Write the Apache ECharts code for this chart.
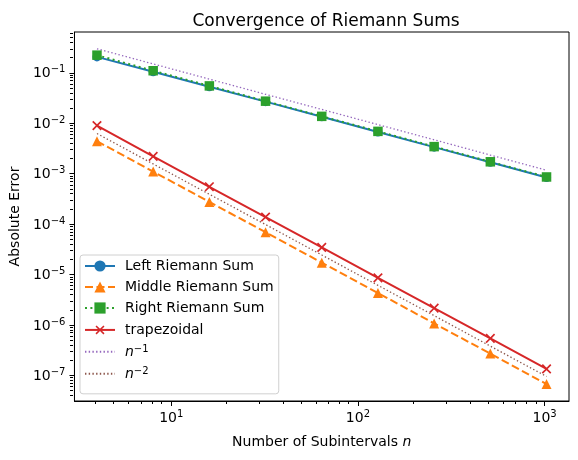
<!DOCTYPE html>
<html>
<head>
<meta charset="utf-8">
<script src="https://cdn.jsdelivr.net/npm/echarts@6/dist/echarts.min.js"></script>
<style>
  html, body { margin: 0; padding: 0; background: #fff; }
  #chart { width: 578px; height: 460px; }
</style>
</head>
<body>
<div id="chart"></div>
<script>
// number of subintervals
var nValues = [4, 8, 16, 32, 64, 128, 256, 512, 1024];

// absolute errors
var leftErr   = [0.207, 0.105, 0.053, 0.0268, 0.0134, 0.0067, 0.00336, 0.00168, 0.00084];
var middleErr = [0.0044, 0.0011, 0.000275, 6.9e-5, 1.72e-5, 4.3e-6, 1.07e-6, 2.7e-7, 6.7e-8];
var rightErr  = [0.224, 0.110, 0.055, 0.0274, 0.0137, 0.0069, 0.00344, 0.00172, 0.00086];
var trapErr   = [0.0090, 0.0022, 0.00055, 1.38e-4, 3.44e-5, 8.6e-6, 2.15e-6, 5.4e-7, 1.34e-7];
var refOrder1 = [0.30, 0.15, 0.075, 0.0375, 0.0188, 0.0094, 0.0047, 0.00234, 0.00117];
var refOrder2 = [0.00625, 0.00156, 0.00039, 9.8e-5, 2.44e-5, 6.1e-6, 1.53e-6, 3.8e-7, 9.5e-8];

// tick labels
var xMajorTicks = [10, 100, 1000];
var yMajorTicks = [1e-7, 1e-6, 1e-5, 1e-4, 1e-3, 1e-2, 1e-1];

var xMin = 3.03, xMax = 1351;
var yMin = 3.1e-8, yMax = 0.645;

function minorTicks(lo, hi) {
    var out = [];
    for (var e = -9; e <= 4; e++) {
        for (var k = 2; k <= 9; k++) {
            var v = k * Math.pow(10, e);
            if (v > lo && v < hi) out.push(v);
        }
    }
    return out;
}

function pairs(ys) {
    return nValues.map(function (n, i) { return [n, ys[i]]; });
}

function powLabel(v) {
    var e = Math.round(Math.log10(v));
    return '{b|10}{sup|' + String(e).replace('-', '\u2212') + '}';
}

var FONT = 'DejaVu Sans';
var labelRich = {
    b: { fontFamily: FONT, fontSize: 14, color: '#000', verticalAlign: 'bottom' },
    sup: { fontFamily: FONT, fontSize: 10, color: '#000', verticalAlign: 'bottom', padding: [0, 0, 6, 0] }
};

var gridRect = { left: 73, top: 32, width: 496, height: 369 };
var crossPath = 'path://M4.3,0H5.7V4.3H10V5.7H5.7V10H4.3V5.7H0V4.3H4.3Z';

var myChart = echarts.init(document.getElementById('chart'), null, { renderer: 'canvas' });

var option = {
    backgroundColor: '#fff',
    animation: false,
    title: {
        text: 'Convergence of Riemann Sums',
        left: 321,
        top: 8,
        textAlign: 'center',
        textStyle: { fontFamily: FONT, fontSize: 17, fontWeight: 'normal', color: '#000' }
    },
    grid: [
        Object.assign({ show: true, borderColor: '#000', borderWidth: 1, backgroundColor: 'transparent' }, gridRect),
        Object.assign({ show: false }, gridRect)
    ],
    legend: {
        orient: 'vertical',
        left: 80,
        top: 255,
        itemWidth: 30,
        itemHeight: 14,
        itemGap: 7,
        padding: [4, 5, 12, 4],
        borderColor: '#d0d0d0',
        borderWidth: 1,
        borderRadius: 3,
        backgroundColor: 'rgba(255,255,255,0.8)',
        data: [
            'Left Riemann Sum', 'Middle Riemann Sum', 'Right Riemann Sum', 'trapezoidal',
            { name: 'n^-1', itemStyle: { opacity: 0 } },
            { name: 'n^-2', itemStyle: { opacity: 0 } }
        ],
        formatter: function (name) {
            if (name === 'n^-1') return '{i|n}{sup|\u22121}';
            if (name === 'n^-2') return '{i|n}{sup|\u22122}';
            return '{t|' + name + '}';
        },
        textStyle: {
            fontFamily: FONT,
            fontSize: 14,
            color: '#000',
            padding: [0, 0, 0, 5],
            rich: {
                t: { fontFamily: FONT, fontSize: 14, color: '#000', lineHeight: 16 },
                i: { fontFamily: FONT, fontSize: 14, fontStyle: 'italic', color: '#000', verticalAlign: 'bottom', lineHeight: 16 },
                sup: { fontFamily: FONT, fontSize: 10, color: '#000', verticalAlign: 'bottom', padding: [0, 0, 5, 0], lineHeight: 11 }
            }
        }
    },
    xAxis: [{
        type: 'log',
        gridIndex: 0,
        min: xMin,
        max: xMax,
        name: '{t|Number of Subintervals }{i|n}',
        nameLocation: 'middle',
        nameGap: 34,
        nameTextStyle: {
            rich: {
                t: { fontFamily: FONT, fontSize: 14, color: '#000' },
                i: { fontFamily: FONT, fontSize: 14, color: '#000', fontStyle: 'italic' }
            }
        },
        axisLine: { show: true, lineStyle: { color: '#000', width: 1 } },
        axisTick: { show: true, inside: false, length: 5, lineStyle: { color: '#000', width: 1 }, customValues: xMajorTicks },
        axisLabel: { show: true, margin: 8, customValues: xMajorTicks, formatter: powLabel, rich: labelRich },
        splitLine: { show: false },
        minorTick: { show: false }
    }, {
        type: 'log',
        gridIndex: 1,
        min: xMin,
        max: xMax,
        axisLine: { show: false },
        axisTick: { show: true, length: 3, lineStyle: { color: '#000', width: 1 }, customValues: minorTicks(xMin, xMax) },
        axisLabel: { show: false },
        splitLine: { show: false }
    }],
    yAxis: [{
        type: 'log',
        gridIndex: 0,
        min: yMin,
        max: yMax,
        name: 'Absolute Error',
        nameLocation: 'middle',
        nameGap: 48,
        nameTextStyle: { fontFamily: FONT, fontSize: 14, color: '#000' },
        axisLine: { show: true, lineStyle: { color: '#000', width: 1 } },
        axisTick: { show: true, length: 5, lineStyle: { color: '#000', width: 1 }, customValues: yMajorTicks },
        axisLabel: { show: true, margin: 9, customValues: yMajorTicks, formatter: powLabel, rich: labelRich },
        splitLine: { show: false },
        minorTick: { show: false }
    }, {
        type: 'log',
        gridIndex: 1,
        min: yMin,
        max: yMax,
        axisLine: { show: false },
        axisTick: { show: true, length: 3, lineStyle: { color: '#000', width: 1 }, customValues: minorTicks(yMin, yMax) },
        axisLabel: { show: false },
        splitLine: { show: false }
    }],
    series: [{
        name: 'Left Riemann Sum',
        type: 'line',
        data: pairs(leftErr),
        symbol: 'circle',
        symbolSize: 9,
        itemStyle: { color: '#1f77b4' },
        lineStyle: { color: '#1f77b4', width: 2 }
    }, {
        name: 'Middle Riemann Sum',
        type: 'line',
        data: pairs(middleErr),
        symbol: 'triangle',
        symbolSize: 10,
        itemStyle: { color: '#ff7f0e' },
        lineStyle: { color: '#ff7f0e', width: 2, type: [8, 3.5] }
    }, {
        name: 'Right Riemann Sum',
        type: 'line',
        data: pairs(rightErr),
        symbol: 'rect',
        symbolSize: 9.5,
        itemStyle: { color: '#2ca02c' },
        lineStyle: { color: '#2ca02c', width: 2, type: [2, 3.4] }
    }, {
        name: 'trapezoidal',
        type: 'line',
        data: pairs(trapErr),
        symbol: crossPath,
        symbolSize: 12,
        symbolRotate: 45,
        itemStyle: { color: '#d62728' },
        lineStyle: { color: '#d62728', width: 2 }
    }, {
        name: 'n^-1',
        type: 'line',
        data: pairs(refOrder1),
        symbol: 'none',
        itemStyle: { color: '#9467bd' },
        lineStyle: { color: '#9467bd', width: 1.3, type: [1.4, 2.3] }
    }, {
        name: 'n^-2',
        type: 'line',
        data: pairs(refOrder2),
        symbol: 'none',
        itemStyle: { color: '#8c564b' },
        lineStyle: { color: '#8c564b', width: 1.3, type: [1.4, 2.3] }
    }]
};

myChart.setOption(option);
</script>
</body>
</html>
